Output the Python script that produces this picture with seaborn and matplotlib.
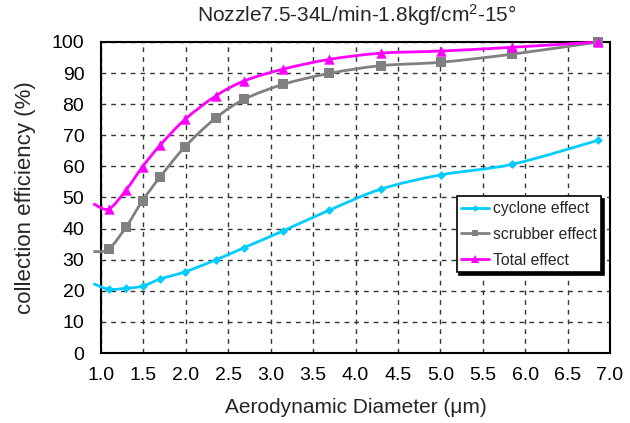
import numpy as np
import pandas as pd
import matplotlib
matplotlib.use("Agg")
import matplotlib.pyplot as plt
from matplotlib.path import Path
from matplotlib.patches import PathPatch
from matplotlib.lines import Line2D
import seaborn as sns

# ---- data ----
diameter = [0.91, 1.09, 1.295, 1.49, 1.70, 1.99, 2.35, 2.69, 3.15, 3.69, 4.30, 5.01, 5.85, 6.86]
cyclone = [22.3, 20.5, 20.8, 21.5, 23.8, 26.1, 29.9, 33.9, 39.3, 45.9, 52.7, 57.3, 60.7, 68.4]
scrubber = [32.6, 33.4, 40.5, 49.0, 56.7, 66.3, 75.5, 81.6, 86.4, 89.9, 92.4, 93.5, 96.1, 100.0]
total = [48.0, 46.3, 52.4, 59.9, 66.9, 75.1, 82.6, 87.5, 91.3, 94.4, 96.4, 97.1, 98.3, 100.0]
series_names = ["cyclone effect", "scrubber effect", "Total effect"]
x_ticks = [1.0, 1.5, 2.0, 2.5, 3.0, 3.5, 4.0, 4.5, 5.0, 5.5, 6.0, 6.5, 7.0]
y_ticks = [0, 10, 20, 30, 40, 50, 60, 70, 80, 90, 100]
title = "Nozzle7.5-34L/min-1.8kgf/cm$^2$-15\u00b0"
xlabel = "Aerodynamic Diameter (\u03bcm)"
ylabel = "collection efficiency (%)"

colors = {"cyclone effect": "#00CCFF", "scrubber effect": "#808080", "Total effect": "#FF00FF"}
markers = {"cyclone effect": "D", "scrubber effect": "s", "Total effect": "^"}
msizes = {"cyclone effect": 4.5, "scrubber effect": 6.5, "Total effect": 7.5}

df = pd.DataFrame({
    "x": diameter * 3,
    "y": cyclone + scrubber + total,
    "series": [s for s in series_names for _ in diameter],
})

sns.set_style("white")
plt.rcParams["font.family"] = ["Liberation Sans", "DejaVu Sans"]
plt.rcParams["mathtext.fontset"] = "custom"
plt.rcParams["mathtext.rm"] = "Liberation Sans"
plt.rcParams["mathtext.it"] = "Liberation Sans"

fig = plt.figure(figsize=(6.3, 4.23), dpi=100)
ax = fig.add_axes([101 / 630, 1 - 353 / 423, 509 / 630, 311 / 423])


def smooth_path(xs, ys):
    pts = np.column_stack([xs, ys])
    n = len(pts)
    verts = [pts[0]]
    codes = [Path.MOVETO]
    for i in range(n - 1):
        p0 = pts[i - 1] if i > 0 else pts[i]
        p1 = pts[i]
        p2 = pts[i + 1]
        p3 = pts[i + 2] if i + 2 < n else pts[i + 1]
        c1 = p1 + (p2 - p0) / 6.0
        c2 = p2 - (p3 - p1) / 6.0
        verts += [c1, c2, p2]
        codes += [Path.CURVE4] * 3
    return Path(verts, codes)


for name in series_names:
    sub = df[df["series"] == name]
    patch = PathPatch(smooth_path(sub["x"].to_numpy(), sub["y"].to_numpy()),
                      fill=False, edgecolor=colors[name], lw=2.0,
                      transform=ax.transData, clip_on=False, zorder=3)
    ax.add_patch(patch)

vis = df[df["x"] >= 1.0]
for name in series_names:
    sub = vis[vis["series"] == name]
    sns.scatterplot(data=sub, x="x", y="y", ax=ax, color=colors[name],
                    marker=markers[name], s=msizes[name] ** 2, linewidth=0,
                    zorder=4, clip_on=False, legend=False)

ax.set_xlim(1.0, 7.0)
ax.set_ylim(0, 100)
ax.set_xticks(x_ticks)
ax.set_xticklabels([f"{t:.1f}" for t in x_ticks])
ax.set_yticks(y_ticks)
ax.set_yticklabels([str(t) for t in y_ticks])
ax.tick_params(axis="both", direction="in", length=4, width=1, colors="black",
               labelsize=14, labelcolor="black")
ax.tick_params(axis="x", pad=10)
ax.tick_params(axis="y", pad=12)
ax.grid(True, color="#333333", linestyle=(0, (3.4, 3.6)), linewidth=1.0)
for sp in ax.spines.values():
    sp.set_color("black")
    sp.set_linewidth(1.5)

ax.set_xlabel(xlabel, fontsize=15)
ax.set_ylabel(ylabel, fontsize=16)
ax.xaxis.set_label_coords(0.5, (353 - 407) / 311)
ax.xaxis.label.set_va("center")
ax.yaxis.set_label_coords((25 - 101) / 509, 0.5)
ax.yaxis.label.set_va("center")

fig.text(357 / 630, 1 - 15 / 423, title, fontsize=15, ha="center", va="center")

handles = [Line2D([0], [0], color=colors[n], lw=2, marker=markers[n],
                  markersize=msizes[n] * 0.75, markeredgewidth=0) for n in series_names]
leg = ax.legend(handles, series_names, loc="upper left",
                bbox_to_anchor=((456.7 - 101) / 509, (353 - 196.5) / 311),
                fontsize=11.3, frameon=True, fancybox=False,
                shadow={"color": "black", "alpha": 1.0},
                handlelength=1.75, handletextpad=0.25, labelspacing=0.68,
                borderpad=0.3, borderaxespad=0)
leg.get_frame().set_edgecolor("black")
leg.get_frame().set_linewidth(1.2)
leg.set_zorder(10)

fig.savefig("out.png", dpi=100)
